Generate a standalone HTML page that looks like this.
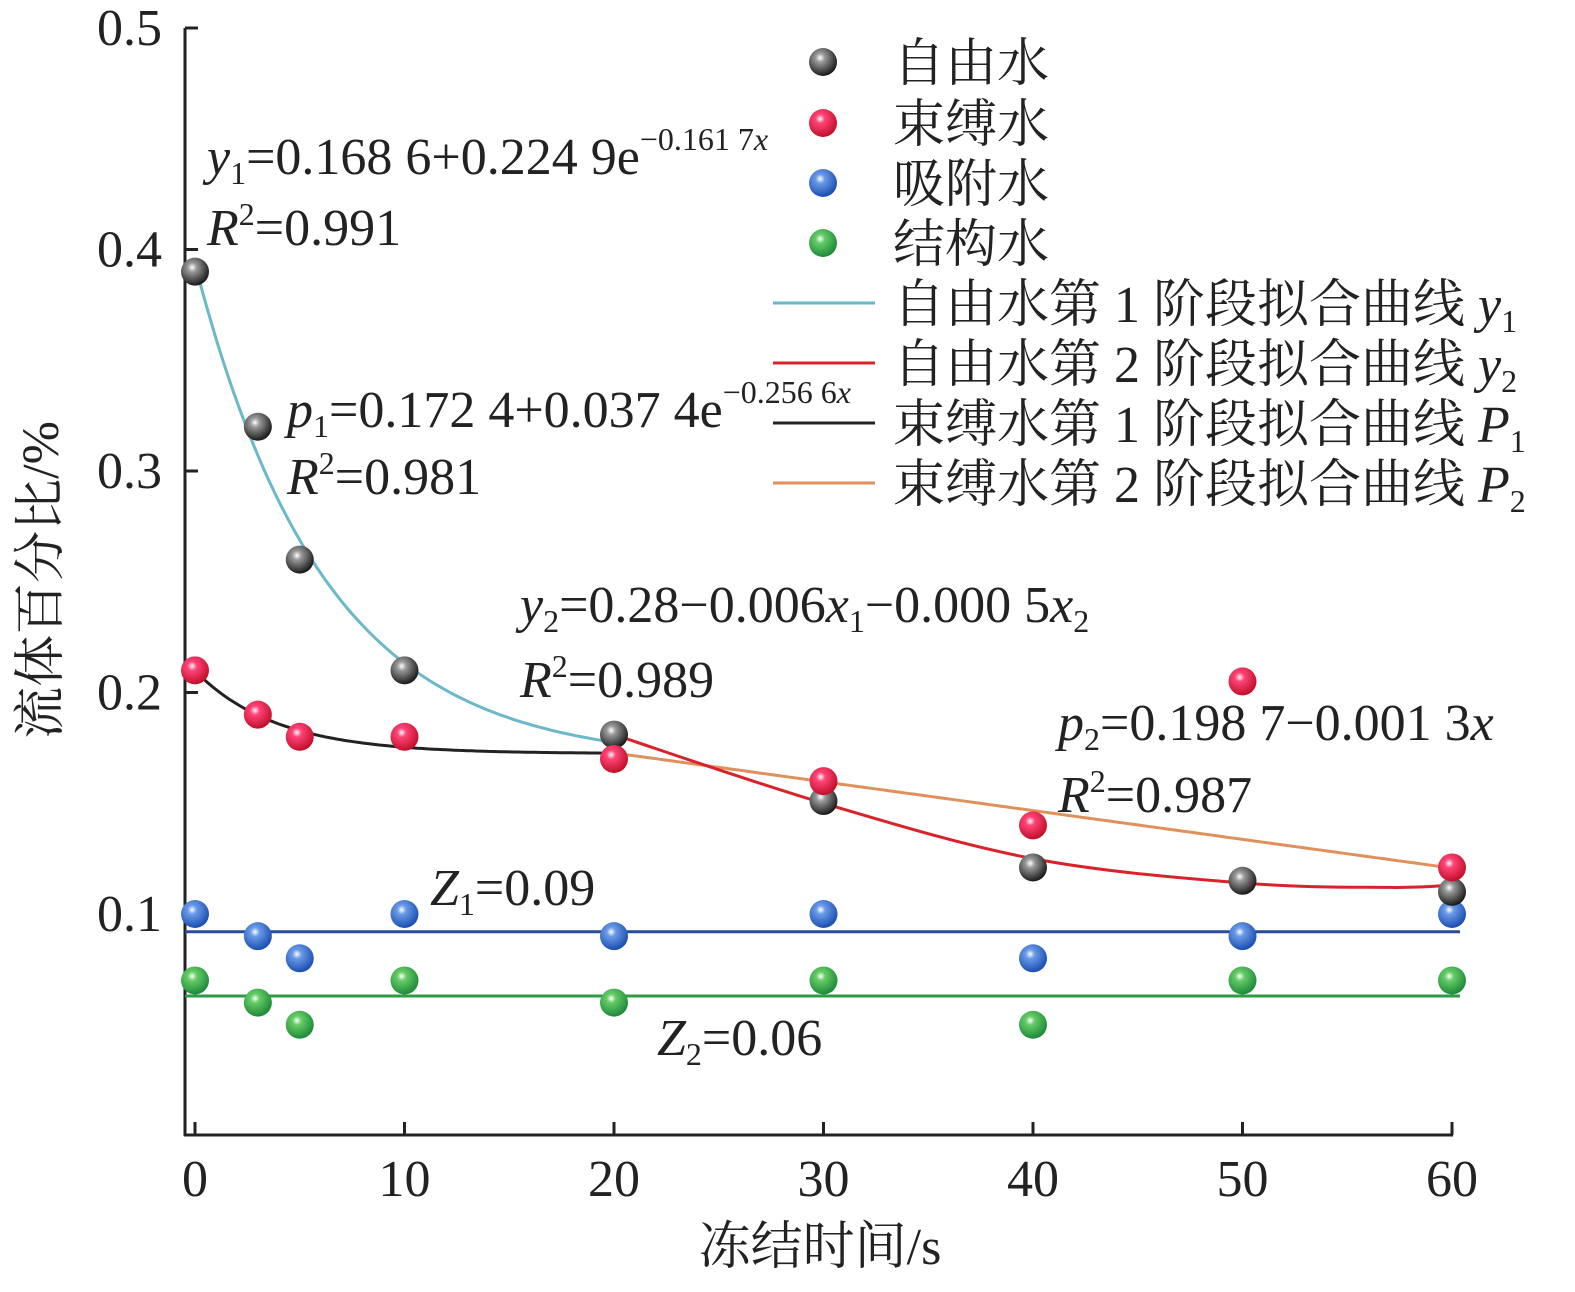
<!DOCTYPE html>
<html><head><meta charset="utf-8"><style>
body{margin:0;background:#fff}
svg text{font-family:"Liberation Serif","Noto Serif CJK SC",serif;fill:#222}
</style></head><body>
<svg width="1575" height="1287" xmlns="http://www.w3.org/2000/svg">
<defs>
<radialGradient id="gk" cx="0.4" cy="0.35" r="0.65"><stop offset="0" stop-color="#fff"/><stop offset="0.25" stop-color="#999"/><stop offset="1" stop-color="#1a1a1a"/></radialGradient>
<radialGradient id="gr" cx="0.4" cy="0.35" r="0.65"><stop offset="0" stop-color="#fff"/><stop offset="0.25" stop-color="#f47"/><stop offset="1" stop-color="#c0102a"/></radialGradient>
<radialGradient id="gb" cx="0.4" cy="0.35" r="0.65"><stop offset="0" stop-color="#fff"/><stop offset="0.25" stop-color="#6a9ae8"/><stop offset="1" stop-color="#1b4fb0"/></radialGradient>
<radialGradient id="gg" cx="0.4" cy="0.35" r="0.65"><stop offset="0" stop-color="#fff"/><stop offset="0.25" stop-color="#6c6"/><stop offset="1" stop-color="#1e8a3a"/></radialGradient>
</defs>
<g id="axes"></g>
<g id="marks"></g>
<g font-size="52">
<text x="207" y="174"><tspan font-style="italic">y</tspan><tspan font-size="32" dy="10">1</tspan><tspan dy="-10">=0.168 6+0.224 9e</tspan><tspan font-size="32" dy="-24">−0.161 7</tspan><tspan font-size="32" font-style="italic">x</tspan></text>
<text x="207" y="245"><tspan font-style="italic">R</tspan><tspan font-size="32" dy="-20">2</tspan><tspan dy="20">=0.991</tspan></text>
<text x="287" y="427"><tspan font-style="italic">p</tspan><tspan font-size="32" dy="10">1</tspan><tspan dy="-10">=0.172 4+0.037 4e</tspan><tspan font-size="32" dy="-24">−0.256 6</tspan><tspan font-size="32" font-style="italic">x</tspan></text>
<text x="287" y="494"><tspan font-style="italic">R</tspan><tspan font-size="32" dy="-20">2</tspan><tspan dy="20">=0.981</tspan></text>
<text x="520" y="622"><tspan font-style="italic">y</tspan><tspan font-size="32" dy="10">2</tspan><tspan dy="-10">=0.28−0.006</tspan><tspan font-style="italic">x</tspan><tspan font-size="32" dy="10">1</tspan><tspan dy="-10">−0.000 5</tspan><tspan font-style="italic">x</tspan><tspan font-size="32" dy="10">2</tspan></text>
<text x="520" y="697"><tspan font-style="italic">R</tspan><tspan font-size="32" dy="-20">2</tspan><tspan dy="20">=0.989</tspan></text>
<text x="1058" y="740"><tspan font-style="italic">p</tspan><tspan font-size="32" dy="10">2</tspan><tspan dy="-10">=0.198 7−0.001 3</tspan><tspan font-style="italic">x</tspan></text>
<text x="1058" y="812"><tspan font-style="italic">R</tspan><tspan font-size="32" dy="-20">2</tspan><tspan dy="20">=0.987</tspan></text>
<text x="430" y="905"><tspan font-style="italic">Z</tspan><tspan font-size="32" dy="10">1</tspan><tspan dy="-10">=0.09</tspan></text>
<text x="657" y="1055"><tspan font-style="italic">Z</tspan><tspan font-size="32" dy="10">2</tspan><tspan dy="-10">=0.06</tspan></text>
</g>
<g font-size="52">
<circle cx="823" cy="62" r="14" fill="url(#gk)"/>
<text x="893" y="81">自由水</text>
<circle cx="823" cy="123" r="14" fill="url(#gr)"/>
<text x="893" y="142">束缚水</text>
<circle cx="823" cy="183" r="14" fill="url(#gb)"/>
<text x="893" y="202">吸附水</text>
<circle cx="823" cy="243" r="14" fill="url(#gg)"/>
<text x="893" y="262">结构水</text>
<line x1="773" y1="303" x2="875" y2="303" stroke="#6bb8c8" stroke-width="3"/>
<text x="893" y="322">自由水第 1 阶段拟合曲线 <tspan font-style="italic">y</tspan><tspan font-size="32" dy="10">1</tspan></text>
<line x1="773" y1="363" x2="875" y2="363" stroke="#d8232a" stroke-width="3"/>
<text x="893" y="382">自由水第 2 阶段拟合曲线 <tspan font-style="italic">y</tspan><tspan font-size="32" dy="10">2</tspan></text>
<line x1="773" y1="423" x2="875" y2="423" stroke="#222" stroke-width="3"/>
<text x="893" y="442">束缚水第 1 阶段拟合曲线 <tspan font-style="italic">P</tspan><tspan font-size="32" dy="10">1</tspan></text>
<line x1="773" y1="483" x2="875" y2="483" stroke="#e0905a" stroke-width="3"/>
<text x="893" y="502">束缚水第 2 阶段拟合曲线 <tspan font-style="italic">P</tspan><tspan font-size="32" dy="10">2</tspan></text>
</g>
</svg>
<script>
const xTicks=[0,10,20,30,40,50,60];
const yTicks=[0.1,0.2,0.3,0.4,0.5];
const times=[0,3,5,10,20,30,40,50,60];
const freeWater=[0.39,0.32,0.26,0.21,0.181,0.151,0.121,0.115,0.11];
const boundWater=[0.21,0.19,0.18,0.18,0.17,0.16,0.14,0.205,0.121];
const adsorbedWater=[0.10,0.09,0.08,0.10,0.09,0.10,0.08,0.09,0.10];
const structWater=[0.07,0.06,0.05,0.07,0.06,0.07,0.05,0.07,0.07];
const y2X=[20,30,40,50,57,60];
const y2Y=[0.181,0.150,0.125,0.114,0.112,0.113];
const z1=0.092, z2=0.063;
const NS='http://www.w3.org/2000/svg';
function X(v){return 195+v*(1452-195)/60;}
function Y(v){return 28+(0.5-v)*2215;}
function mk(tag,attrs,parent){const e=document.createElementNS(NS,tag);for(const k in attrs)e.setAttribute(k,attrs[k]);parent.appendChild(e);return e;}
const ax=document.getElementById('axes'), mg=document.getElementById('marks');
let e=mk('line',{x1:185,y1:28,x2:185,y2:1136,stroke:'#222','stroke-width':3},ax);


e=mk('line',{x1:184,y1:1135,x2:1453,y2:1135,stroke:'#222','stroke-width':3},ax);


xTicks.forEach(t=>{
 mk('line',{x1:X(t),y1:1135,x2:X(t),y2:1122,stroke:'#222','stroke-width':3},ax);
 const tx=mk('text',{x:X(t),y:1196,'text-anchor':'middle','font-size':52},ax);tx.textContent=t;
 
 
});
yTicks.forEach(t=>{
 mk('line',{x1:185,y1:Y(t),x2:198,y2:Y(t),stroke:'#222','stroke-width':3},ax);
 const tx=mk('text',{x:162,y:Y(t)+17,'text-anchor':'end','font-size':52},ax);tx.textContent=t;
 
 
});
e=mk('text',{x:820,y:1264,'text-anchor':'middle','font-size':52},ax);e.textContent='冻结时间/s';


e=mk('text',{x:0,y:0,'text-anchor':'middle','font-size':52,transform:'translate(58,580) rotate(-90)'},ax);e.textContent='流体百分比/%';


function path(fn,a,b,color,name){let d='';for(let i=0;i<=100;i++){const x=a+(b-a)*i/100;d+=(i?'L':'M')+X(x).toFixed(1)+' '+Y(fn(x)).toFixed(1);}
 const p=mk('path',{d:d,fill:'none',stroke:color,'stroke-width':3},mg);
 
 }
e=mk('line',{x1:185,y1:Y(z1),x2:1460,y2:Y(z1),stroke:'#2a4a9a','stroke-width':3},mg);


e=mk('line',{x1:185,y1:Y(z2),x2:1460,y2:Y(z2),stroke:'#2e9a44','stroke-width':3},mg);


path(x=>0.1686+0.2249*Math.exp(-0.1617*x),0,20,'#6bb8c8','y1-curve');
path(x=>0.1724+0.0374*Math.exp(-0.2566*x),0,20,'#222','p1-curve');
path(x=>0.1987-0.0013*x,20,60,'#e0905a','p2-line');
(function(){let d='M'+X(y2X[0])+' '+Y(y2Y[0]);
 for(let i=0;i<y2X.length-1;i++){const p0=i?i-1:0,p3=Math.min(i+2,y2X.length-1);
  const x0=X(y2X[p0]),y0=Y(y2Y[p0]),x1=X(y2X[i]),y1=Y(y2Y[i]),x2=X(y2X[i+1]),y2=Y(y2Y[i+1]),x3=X(y2X[p3]),y3=Y(y2Y[p3]);
  d+=' C'+(x1+(x2-x0)/6)+' '+(y1+(y2-y0)/6)+' '+(x2-(x3-x1)/6)+' '+(y2-(y3-y1)/6)+' '+x2+' '+y2;}
 const p=mk('path',{d:d,fill:'none',stroke:'#d8232a','stroke-width':3},mg);
 
 })();
function pts(arr,g,name){arr.forEach((v,i)=>{const c=mk('circle',{cx:X(times[i]),cy:Y(v),r:14,fill:'url(#'+g+')'},mg);
 
 });}
pts(structWater,'gg','structural-water-point');
pts(adsorbedWater,'gb','adsorbed-water-point');
pts(freeWater,'gk','free-water-point');
pts(boundWater,'gr','bound-water-point');
</script>
</body></html>
